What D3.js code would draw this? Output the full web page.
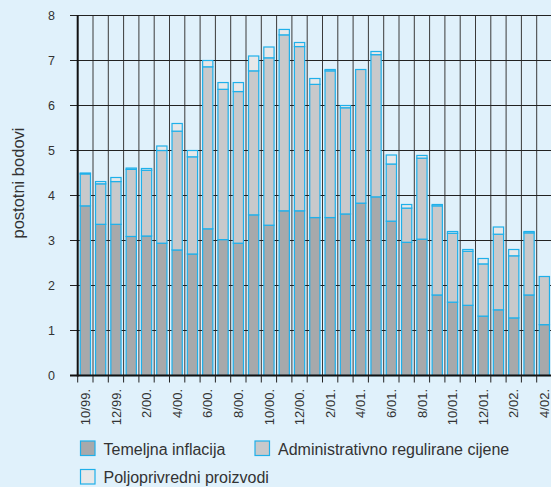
<!DOCTYPE html>
<html>
<head>
<meta charset="utf-8">
<script src="https://cdn.jsdelivr.net/npm/d3@7"></script>
<style>
  body { margin: 0; background: #e0f1fb; }
  svg { display: block; font-family: "Liberation Sans", Arial, sans-serif; }
</style>
</head>
<body>
<div id="chart"></div>
<script>
var width = 551;
var height = 487;

// months (10/99 .. 4/02)
var months = ["10/99.", "11/99.", "12/99.", "1/00.", "2/00.", "3/00.", "4/00.", "5/00.", "6/00.", "7/00.",
  "8/00.", "9/00.", "10/00.", "11/00.", "12/00.", "1/01.", "2/01.", "3/01.", "4/01.", "5/01.",
  "6/01.", "7/01.", "8/01.", "9/01.", "10/01.", "11/01.", "12/01.", "1/02.", "2/02.", "3/02.", "4/02."];

// Temeljna inflacija
var temeljna = [3.77, 3.36, 3.36, 3.09, 3.10, 2.94, 2.79, 2.70, 3.26, 3.02,
  2.94, 3.57, 3.34, 3.66, 3.66, 3.51, 3.51, 3.59, 3.83, 3.97,
  3.43, 2.96, 3.03, 1.79, 1.63, 1.56, 1.32, 1.46, 1.28, 1.79, 1.13];

// Administrativno regulirane cijene
var administrativno = [0.71, 0.90, 0.95, 1.49, 1.46, 2.06, 2.64, 2.16, 3.60, 3.34,
  3.37, 3.20, 3.72, 3.91, 3.65, 2.96, 3.26, 2.36, 2.97, 3.16,
  1.27, 0.76, 1.80, 1.98, 1.53, 1.20, 1.16, 1.68, 1.38, 1.38, 1.07];

// Poljoprivredni proizvodi
var poljoprivredni = [0.02, 0.05, 0.09, 0.03, 0.04, 0.10, 0.17, 0.14, 0.14, 0.15,
  0.20, 0.33, 0.24, 0.12, 0.09, 0.13, 0.03, 0.05, 0.00, 0.07,
  0.20, 0.08, 0.06, 0.03, 0.04, 0.04, 0.12, 0.16, 0.14, 0.03, 0.00];

var yTicks = [0, 1, 2, 3, 4, 5, 6, 7, 8];

var keys = ["temeljna", "administrativno", "poljoprivredni"];
var names = ["Temeljna inflacija", "Administrativno regulirane cijene", "Poljoprivredni proizvodi"];
var colors = ["#a7a9ab", "#c8c9cb", "#e7e8e9"];
var blue = "#1fb0ea";

var plotLeft = 77.7, plotTop = 15.5, plotBottom = 375.5;
var step = 15.3;

var rows = months.map(function(m, i) {
  return {month: m, temeljna: temeljna[i], administrativno: administrativno[i], poljoprivredni: poljoprivredni[i]};
});

var svg = d3.select("#chart").append("svg")
  .attr("width", width)
  .attr("height", height);

var x = d3.scaleBand()
  .domain(months)
  .range([plotLeft, plotLeft + step * months.length])
  .paddingInner(0.33)
  .paddingOuter(0.165);

var y = d3.scaleLinear()
  .domain([0, 8])
  .range([plotBottom, plotTop]);

var gap = (x.step() - x.bandwidth()) / 2;
var edges = months.map(function(m) { return x(m) - gap; });
edges.push(x(months[months.length - 1]) + x.bandwidth() + gap);

// vertical grid
svg.append("g").selectAll("line")
  .data(edges.slice(1))
  .enter()
  .append("line")
  .attr("x1", function(d) { return d; })
  .attr("x2", function(d) { return d; })
  .attr("y1", plotTop)
  .attr("y2", plotBottom)
  .attr("stroke", "#3a3a3a")
  .attr("stroke-width", 1);

// horizontal grid
svg.append("g").selectAll("line")
  .data(yTicks)
  .enter()
  .append("line")
  .attr("x1", 70)
  .attr("x2", width)
  .attr("y1", function(d) { return y(d); })
  .attr("y2", function(d) { return y(d); })
  .attr("stroke", "#222")
  .attr("stroke-width", 1.2);

// y labels
svg.append("g").selectAll("text")
  .data(yTicks)
  .enter()
  .append("text")
  .attr("x", 55)
  .attr("y", function(d) { return y(d); })
  .attr("dy", "0.36em")
  .attr("text-anchor", "end")
  .attr("font-size", "12.5px")
  .attr("fill", "#333")
  .text(function(d) { return d; });

svg.append("text")
  .attr("transform", "translate(24,183) rotate(-90)")
  .attr("text-anchor", "middle")
  .attr("font-size", "16.5px")
  .attr("fill", "#333")
  .text("postotni bodovi");

// bars
var stack = d3.stack().keys(keys)(rows);

svg.append("g").selectAll("g")
  .data(stack)
  .enter()
  .append("g")
  .attr("fill", function(d, i) { return colors[i]; })
  .selectAll("rect")
  .data(function(d) { return d; })
  .enter()
  .append("rect")
  .attr("x", function(d) { return x(d.data.month); })
  .attr("width", x.bandwidth())
  .attr("y", function(d) { return y(d[1]); })
  .attr("height", function(d) { return y(d[0]) - y(d[1]); })
  .attr("stroke", blue)
  .attr("stroke-width", function(d) { return (d[1] - d[0]) > 0 ? 1.2 : 0; });

// axes
svg.append("line")
  .attr("x1", plotLeft).attr("x2", plotLeft)
  .attr("y1", plotTop).attr("y2", plotBottom + 1)
  .attr("stroke", "#111").attr("stroke-width", 2);

svg.append("line")
  .attr("x1", 70).attr("x2", width)
  .attr("y1", plotBottom).attr("y2", plotBottom)
  .attr("stroke", "#111").attr("stroke-width", 2);

// x ticks
svg.append("g").selectAll("line")
  .data(edges)
  .enter()
  .append("line")
  .attr("x1", function(d) { return d; })
  .attr("x2", function(d) { return d; })
  .attr("y1", plotBottom)
  .attr("y2", plotBottom + 7)
  .attr("stroke", "#222");

svg.append("g").selectAll("text")
  .data(months.filter(function(d, i) { return i % 2 === 0; }))
  .enter()
  .append("text")
  .attr("transform", function(d) {
    return "translate(" + (x(d) + x.bandwidth() / 2) + ",389) rotate(-90)";
  })
  .attr("text-anchor", "end")
  .attr("dy", "0.36em")
  .attr("font-size", "13px")
  .attr("fill", "#333")
  .text(function(d) { return d; });

// legend
var legendPos = [[80.5, 441], [255, 441], [80.5, 469.5]];

var legend = svg.append("g").selectAll("g")
  .data(names)
  .enter()
  .append("g")
  .attr("transform", function(d, i) { return "translate(" + legendPos[i][0] + "," + legendPos[i][1] + ")"; });

legend.append("rect")
  .attr("width", 14.5)
  .attr("height", 14.5)
  .attr("fill", function(d, i) { return colors[i]; })
  .attr("stroke", blue)
  .attr("stroke-width", 1.2);

legend.append("text")
  .attr("x", 23)
  .attr("y", 13.5)
  .attr("font-size", "16px")
  .attr("fill", "#333")
  .text(function(d) { return d; });
</script>
</body>
</html>
